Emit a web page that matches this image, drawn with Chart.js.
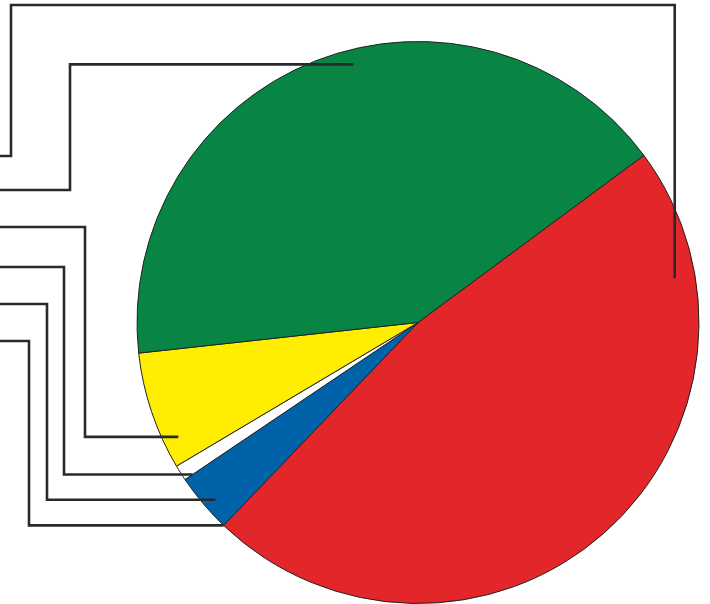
<!DOCTYPE html>
<html>
<head>
<meta charset="utf-8">
<style>
  html, body { margin: 0; padding: 0; background: #ffffff; }
  #wrap { width: 710px; height: 604px; }
</style>
<script src="https://cdn.jsdelivr.net/npm/chart.js@4"></script>
</head>
<body>
<div id="wrap"><canvas id="pie" width="710" height="604"></canvas></div>
<script>
// Pie shares (percent), in drawing order clockwise from the start angle
const categories = ['Red', 'Blue', 'White', 'Yellow', 'Green'];
const shares = [47.3, 3.4, 0.9, 6.8, 41.6];
const sliceColors = ['#e2262a', '#0062a8', '#ffffff', '#ffee00', '#088545'];

// Leader lines: slice index, position along the slice's angle (0..1),
// radial position (fraction of radius), then routing to the left margin
const leaderSlice = [4, 0, 3, 2, 1, 0];
const leaderAlong = [0.549, 0.157, 0.214, 0.0, 0.41, 1.0];
const leaderRadius = [0.947, 0.927, 0.945, 0.968, 0.958, 1.0];
const leaderElbowX = [70, 675, 85, 64, 47, 29];
const leaderEndY = [190, 156, 227, 267, 304, 341];
const leaderOverTopY = [null, 5, null, null, null, null];
const leaderOverLeftX = [null, 11, null, null, null, null];

const leaderPlugin = {
  id: 'leaders',
  afterDatasetsDraw(chart) {
    const ctx = chart.ctx;
    const arcs = chart.getDatasetMeta(0).data;
    ctx.save();
    ctx.strokeStyle = '#2a2a2a';
    ctx.lineWidth = 2.6;
    ctx.lineJoin = 'miter';
    ctx.lineCap = 'butt';
    leaderSlice.forEach((si, i) => {
      const arc = arcs[si];
      const p = arc.getProps(['x', 'y', 'startAngle', 'endAngle', 'outerRadius'], true);
      const a = p.startAngle + leaderAlong[i] * (p.endAngle - p.startAngle);
      const r = p.outerRadius * leaderRadius[i];
      const ax = p.x + Math.cos(a) * r;
      const ay = p.y + Math.sin(a) * r;
      ctx.beginPath();
      if (leaderOverTopY[i] !== null) {
        ctx.moveTo(ax, ay);
        ctx.lineTo(ax, leaderOverTopY[i]);
        ctx.lineTo(leaderOverLeftX[i], leaderOverTopY[i]);
        ctx.lineTo(leaderOverLeftX[i], leaderEndY[i]);
        ctx.lineTo(0, leaderEndY[i]);
      } else {
        ctx.moveTo(ax, ay);
        ctx.lineTo(leaderElbowX[i], ay);
        ctx.lineTo(leaderElbowX[i], leaderEndY[i]);
        ctx.lineTo(0, leaderEndY[i]);
      }
      ctx.stroke();
    });
    ctx.restore();
  }
};

new Chart(document.getElementById('pie'), {
  type: 'pie',
  data: {
    labels: categories,
    datasets: [{
      data: shares,
      backgroundColor: sliceColors,
      borderColor: '#222222',
      borderWidth: 1,
      hoverOffset: 0
    }]
  },
  options: {
    responsive: false,
    animation: false,
    rotation: 53.5,
    layout: { padding: { left: 136, right: 10, top: 41, bottom: 0 } },
    plugins: {
      legend: { display: false },
      tooltip: { enabled: false }
    },
    events: []
  },
  plugins: [leaderPlugin]
});
</script>
</body>
</html>
